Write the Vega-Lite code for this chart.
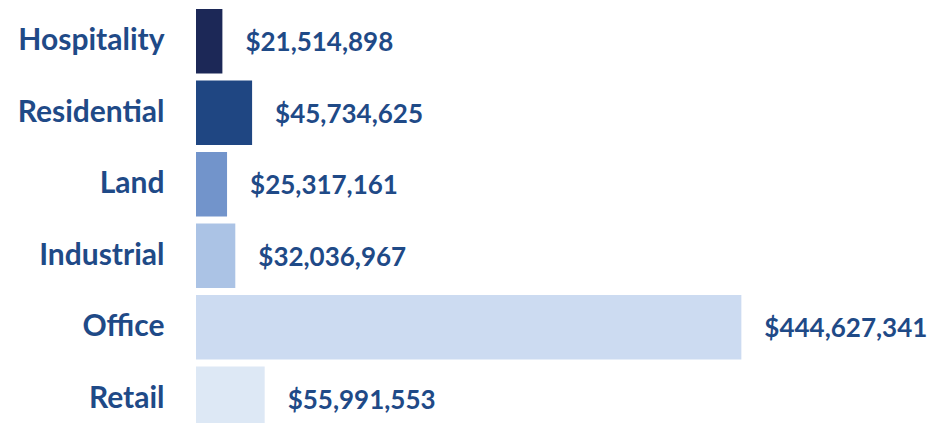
{
  "$schema": "https://vega.github.io/schema/vega-lite/v6.json",
  "autosize": {"type": "none"},
  "width": 739,
  "height": 440,
  "padding": {"left": 196, "top": 0, "right": 0, "bottom": 0},
  "background": "white",
  "config": {"view": {"stroke": null}},
  "data": {
    "values": [
      {"type": "Hospitality", "value": 21514898},
      {"type": "Residential", "value": 45734625},
      {"type": "Land", "value": 25317161},
      {"type": "Industrial", "value": 32036967},
      {"type": "Office", "value": 444627341},
      {"type": "Retail", "value": 55991553}
    ]
  },
  "encoding": {
    "y": {
      "field": "type",
      "type": "nominal",
      "sort": null,
      "scale": {"paddingInner": 0.1, "paddingOuter": 0.126},
      "axis": {
        "title": null,
        "domain": false,
        "ticks": false,
        "labelPadding": 32,
        "labelFont": "Lato",
        "labelFontWeight": "bold",
        "labelFontSize": 30,
        "labelColor": "#1f4a87",
        "labelAlign": "right"
      }
    }
  },
  "layer": [
    {
      "mark": {"type": "bar"},
      "encoding": {
        "x": {"field": "value", "type": "quantitative", "scale": {"domain": [0, 602500000], "nice": false}, "axis": null},
        "color": {
          "field": "type",
          "type": "nominal",
          "scale": {
            "domain": ["Hospitality", "Residential", "Land", "Industrial", "Office", "Retail"],
            "range": ["#1c2857", "#1f4682", "#7294cb", "#abc3e5", "#ccdbf1", "#dde8f5"]
          },
          "legend": null
        }
      }
    },
    {
      "mark": {"type": "text", "align": "left", "baseline": "middle", "dx": 23, "dy": 2, "font": "Lato", "fontWeight": "bold", "fontSize": 26, "color": "#1f4a87"},
      "encoding": {
        "x": {"field": "value", "type": "quantitative"},
        "text": {"field": "value", "type": "quantitative", "format": "$,.0f"}
      }
    }
  ]
}
